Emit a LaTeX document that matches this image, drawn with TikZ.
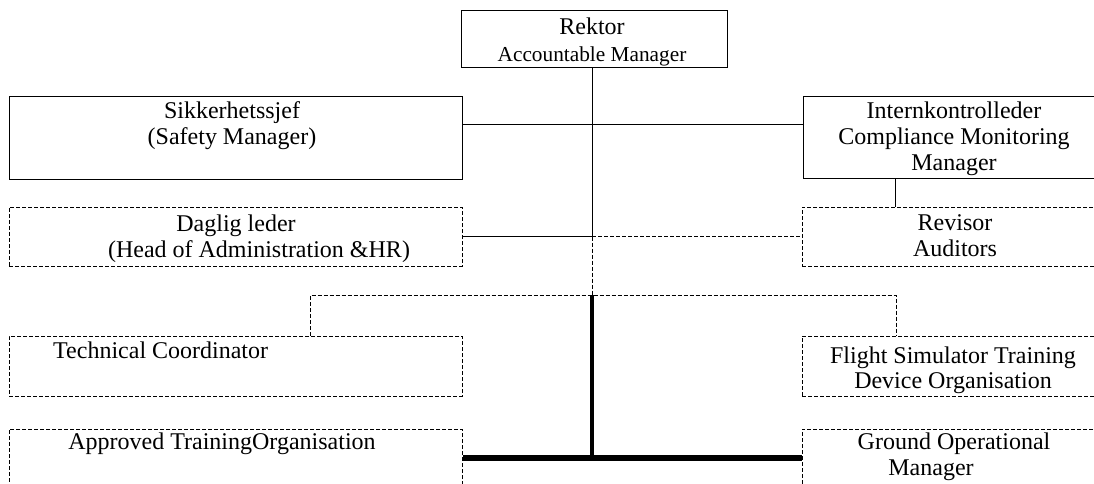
\documentclass[tikz,border=0pt]{standalone}
\usepackage{fontspec}
\setmainfont{Liberation Serif}
\begin{document}
\begin{tikzpicture}[x=1pt,y=-1pt,
  solidbox/.style={draw, line width=1pt, inner sep=0pt},
  dashbox/.style={draw, line width=1pt, inner sep=0pt, dash pattern=on 4pt off 2pt},
  lbl/.style={font=\fontsize{24}{26}\selectfont, inner sep=0pt, align=center, anchor=base},
  smalllbl/.style={lbl, font=\fontsize{21.3}{24}\selectfont},
  conn/.style={line width=1pt},
  dashconn/.style={line width=1pt, dash pattern=on 4pt off 2pt},
  boldv/.style={line width=4pt},
  boldh/.style={line width=6pt}]
\useasboundingbox (0,0) rectangle (1094,484);
\clip (0,0) rectangle (1094,484);
% boxes
\node[solidbox, minimum width=266pt, minimum height=57pt] (rek) at (594,39.5) {};
\node[solidbox, minimum width=453pt, minimum height=82pt] (sik) at (235.5,138) {};
\node[solidbox, minimum width=301pt, minimum height=81pt] (int) at (953.5,137.5) {};
\node[dashbox, minimum width=453pt, minimum height=59pt] (dag) at (235.5,236.5) {};
\node[dashbox, minimum width=302pt, minimum height=59pt] (rev) at (953,236.5) {};
\node[dashbox, minimum width=453pt, minimum height=60pt] (tech) at (235.5,366) {};
\node[dashbox, minimum width=302pt, minimum height=60pt] (fl) at (953,366) {};
\node[dashbox, minimum width=453pt, minimum height=71pt] (appr) at (235.5,464.5) {};
\node[dashbox, minimum width=302pt, minimum height=71pt] (gr) at (953,464.5) {};
% texts (anchor = baseline of the last line)
\node[lbl] (trek1) at (592,35) {Rektor};
\node[smalllbl] (trek2) at (592,62) {Accountable Manager};
\node[lbl] (tsik) at (232,144) {Sikkerhetssjef\\(Safety Manager)};
\node[lbl] (tint) at (954,170) {Internkontrolleder\\Compliance Monitoring\\Manager};
\node[lbl] (tdag1) at (236,231) {Daglig leder};
\node[lbl] (tdag2) at (259,257) {(Head of Administration \&HR)};
\node[lbl] (trev) at (955,256) {Revisor\\Auditors};
\node[lbl, anchor=base west] (ttech) at (53,358) {Technical Coordinator};
\node[lbl] (tappr) at (222,449) {Approved TrainingOrganisation};
\node[lbl, font=\fontsize{24}{25}\selectfont] (tfl) at (953,388) {Flight Simulator Training\\Device Organisation};
\node[lbl] (tgr1) at (954,449) {Ground Operational};
\node[lbl] (tgr2) at (931,475) {Manager};
% junctions
\coordinate (j1) at (592,236.5);
\coordinate (j2) at (592,295);
\coordinate (j3) at (592,458);
\coordinate (tl) at (310,295);
\coordinate (tr) at (896,295);
% connectors
\draw[conn] (rek.south -| j1) -- (j1);
\draw[conn] ([yshift=13pt]sik.east) -- ([yshift=13pt]sik.east -| int.west);
\draw[conn] ([xshift=-58pt]int.south) -- ([xshift=-58pt]int.south |- rev.north);
\draw[conn] (dag.east) -- (j1);
\draw[dashconn] (j1) -- (rev.west);
\draw[dashconn] (j1) -- (j2);
\draw[dashconn] (tech.north -| tl) -- (tl) -- (tr) -- (tr |- fl.north);
\draw[boldv] (j2) -- (j3);
\draw[boldh] (appr.east |- j3) -- (gr.west |- j3);
\end{tikzpicture}
\end{document}
